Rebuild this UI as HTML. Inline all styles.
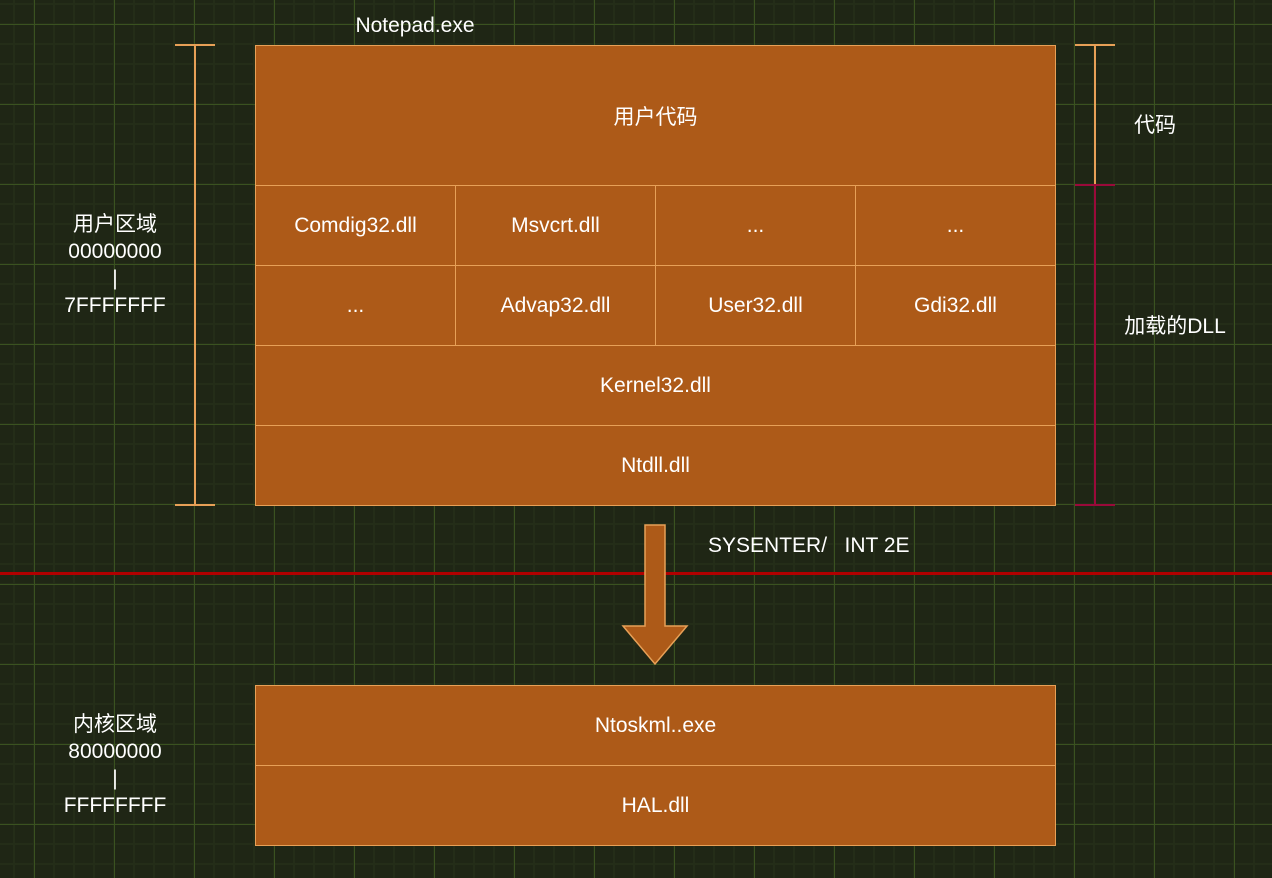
<!DOCTYPE html>
<html><head><meta charset="utf-8"><style>
body{margin:0;width:1272px;height:878px;overflow:hidden;background:#1f2615;
font-family:"Liberation Sans","Noto Sans CJK SC",sans-serif;}
.bg{position:absolute;left:0;top:0;width:1272px;height:878px;
background-image:
linear-gradient(to right,#3a5220 1px,transparent 1px),
linear-gradient(to bottom,#3a5220 1px,transparent 1px),
linear-gradient(to right,#242d18 2px,transparent 2px),
linear-gradient(to bottom,#242d18 2px,transparent 2px);
background-size:80px 80px,80px 80px,20px 20px,20px 20px;
background-position:34px 24px,34px 24px,13px 3px,13px 3px;}
.c{position:absolute;background:#ad5a18;border:1px solid #e7a057;box-sizing:border-box;
color:#fff;font-size:21px;display:flex;align-items:center;justify-content:center;}
.t{position:absolute;color:#fff;font-size:21px;text-align:center;line-height:27px;}
</style></head><body>
<div class="bg"></div>
<div class="c" style="left:255px;top:45px;width:801px;height:141px">用户代码</div>
<div class="c" style="left:255px;top:185px;width:201px;height:81px">Comdig32.dll</div>
<div class="c" style="left:455px;top:185px;width:201px;height:81px">Msvcrt.dll</div>
<div class="c" style="left:655px;top:185px;width:201px;height:81px">...</div>
<div class="c" style="left:855px;top:185px;width:201px;height:81px">...</div>
<div class="c" style="left:255px;top:265px;width:201px;height:81px">...</div>
<div class="c" style="left:455px;top:265px;width:201px;height:81px">Advap32.dll</div>
<div class="c" style="left:655px;top:265px;width:201px;height:81px">User32.dll</div>
<div class="c" style="left:855px;top:265px;width:201px;height:81px">Gdi32.dll</div>
<div class="c" style="left:255px;top:345px;width:801px;height:81px">Kernel32.dll</div>
<div class="c" style="left:255px;top:425px;width:801px;height:81px">Ntdll.dll</div>
<div class="c" style="left:255px;top:685px;width:801px;height:81px">Ntoskml..exe</div>
<div class="c" style="left:255px;top:765px;width:801px;height:81px">HAL.dll</div>
<svg width="1272" height="878" style="position:absolute;left:0;top:0">
<line x1="0" y1="573.5" x2="1272" y2="573.5" stroke="#b00000" stroke-width="3"/>
<polygon points="645,525 665,525 665,626 687,626 655,664 623,626 645,626" fill="#ad5a18" stroke="#e7a057" stroke-width="1.5"/>
<g stroke="#e7a057" stroke-width="2">
<line x1="195" y1="45" x2="195" y2="505"/><line x1="175" y1="45" x2="215" y2="45"/><line x1="175" y1="505" x2="215" y2="505"/>
<line x1="1095" y1="45" x2="1095" y2="185"/><line x1="1075" y1="45" x2="1115" y2="45"/>
</g>
<g stroke="#9a0a3a" stroke-width="2">
<line x1="1095" y1="185" x2="1095" y2="505"/><line x1="1075" y1="185" x2="1115" y2="185"/><line x1="1075" y1="505" x2="1115" y2="505"/>
</g>
</svg>
<div class="t" style="left:40px;top:211px;width:150px">用户区域<br>00000000<br>|<br>7FFFFFFF</div>
<div class="t" style="left:315px;top:12px;width:200px">Notepad.exe</div>
<div class="t" style="left:40px;top:711px;width:150px">内核区域<br>80000000<br>|<br>FFFFFFFF</div>
<div class="t" style="left:1105px;top:112px;width:100px">代码</div>
<div class="t" style="left:1105px;top:313px;width:140px">加载的DLL</div>
<div class="t" style="left:708px;top:532px;width:250px;text-align:left">SYSENTER/&nbsp;&nbsp;&nbsp;INT 2E</div>
</body></html>
